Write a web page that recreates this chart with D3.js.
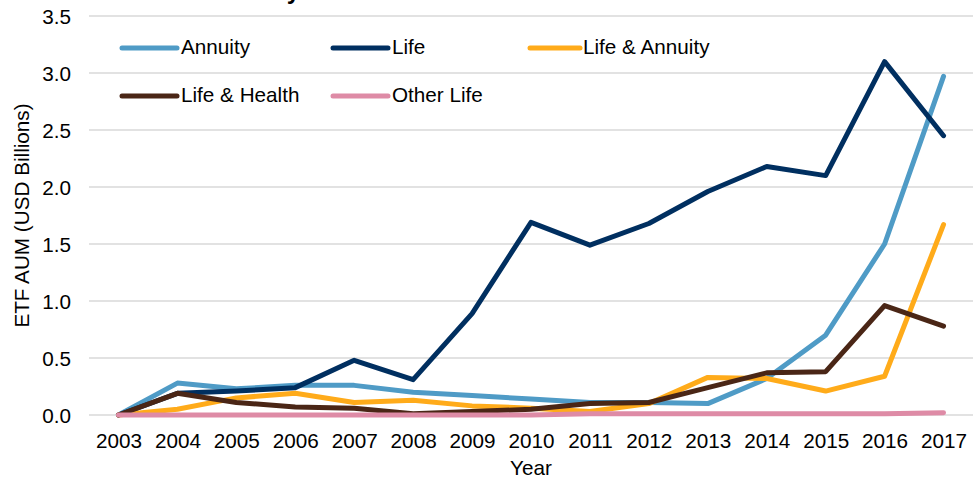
<!DOCTYPE html>
<html>
<head>
<meta charset="utf-8">
<title>ETF AUM by industry</title>
<style>
  body { margin: 0; background: #fff; }
  svg { display: block; }
  text { font-family: "Liberation Sans", Arial, sans-serif; fill: #000; }
  .grid line { stroke: #d9d9d9; stroke-width: 1.5; }
  .series { fill: none; stroke-width: 5; stroke-linejoin: round; stroke-linecap: round; }
</style>
<script src="https://cdn.jsdelivr.net/npm/d3@7"></script>
</head>
<body>
<script>
// data
const years = ['2003','2004','2005','2006','2007','2008','2009','2010','2011','2012','2013','2014','2015','2016','2017'];
const annuity      = [0, 0.28, 0.23, 0.26, 0.26, 0.20, 0.17, 0.14, 0.11, 0.11, 0.10, 0.32, 0.70, 1.50, 2.97];
const life         = [0, 0.19, 0.21, 0.24, 0.48, 0.31, 0.89, 1.69, 1.49, 1.68, 1.96, 2.18, 2.10, 3.10, 2.45];
const lifeAnnuity  = [0, 0.05, 0.15, 0.19, 0.11, 0.13, 0.08, 0.06, 0.03, 0.10, 0.33, 0.32, 0.21, 0.34, 1.67];
const lifeHealth   = [0, 0.19, 0.11, 0.07, 0.06, 0.01, 0.03, 0.05, 0.10, 0.11, 0.24, 0.37, 0.38, 0.96, 0.78];
const otherLife    = [0, 0, 0, 0, 0, 0, 0, 0, 0.01, 0.01, 0.01, 0.01, 0.01, 0.01, 0.02];
const yTicks = [0, 0.5, 1.0, 1.5, 2.0, 2.5, 3.0, 3.5];

const series = [
  { name: 'Annuity', values: annuity, color: '#4f9bc6' },
  { name: 'Life', values: life, color: '#002f60' },
  { name: 'Life & Annuity', values: lifeAnnuity, color: '#ffab1a' },
  { name: 'Life & Health', values: lifeHealth, color: '#4a2616' },
  { name: 'Other Life', values: otherLife, color: '#de8ba6' }
];

const W = 980, H = 481;
const plotL = 89, plotR = 973, plotT = 16, plotB = 415;
const fs = '20.7px';

const svg = d3.select('body').append('svg').attr('width', W).attr('height', H);

const x = d3.scalePoint().domain(years).range([plotL, plotR]).padding(0.5);
const y = d3.scaleLinear().domain([0, 3.5]).range([plotB, plotT]);

// title sits above the visible area; only the tail of its last letter shows
svg.append('text')
  .attr('x', 300).attr('y', -1)
  .attr('text-anchor', 'end')
  .style('font-size', '24px').style('font-weight', 'bold')
  .text('Life Insurance Industry');

// gridlines
svg.append('g').attr('class', 'grid')
  .selectAll('line').data(yTicks).join('line')
  .attr('x1', plotL).attr('x2', plotR)
  .attr('y1', d => y(d)).attr('y2', d => y(d));

// y axis labels
const yAxis = svg.append('g')
  .attr('transform', `translate(${plotL},0)`)
  .call(d3.axisLeft(y).tickValues(yTicks).tickFormat(d3.format('.1f')).tickSize(0).tickPadding(18));
yAxis.select('.domain').remove();
yAxis.selectAll('text').style('font-size', fs).attr('font-family', null).attr('dy', '0.35em');

// x axis labels
const xAxis = svg.append('g')
  .attr('transform', `translate(0,${plotB})`)
  .call(d3.axisBottom(x).tickSize(0).tickPadding(18));
xAxis.select('.domain').remove();
xAxis.selectAll('text').style('font-size', fs).attr('font-family', null).attr('dy', '0.71em');

// axis titles
svg.append('text')
  .attr('x', (plotL + plotR) / 2).attr('y', 475)
  .attr('text-anchor', 'middle').style('font-size', fs)
  .text('Year');

svg.append('text')
  .attr('transform', `translate(29,${(plotT + plotB) / 2}) rotate(-90)`)
  .attr('text-anchor', 'middle').style('font-size', fs)
  .text('ETF AUM (USD Billions)');

// lines
const line = d3.line().x((d, i) => x(years[i])).y(d => y(d));
svg.append('g').selectAll('path').data(series).join('path')
  .attr('class', 'series')
  .attr('stroke', d => d.color)
  .attr('d', d => line(d.values));

// legend
const legendPos = [
  { x: 122, y: 48 }, { x: 333, y: 48 }, { x: 530, y: 48 },
  { x: 122, y: 96 }, { x: 333, y: 96 }
];
const lg = svg.append('g').selectAll('g').data(series).join('g')
  .attr('transform', (d, i) => `translate(${legendPos[i].x},${legendPos[i].y})`);
lg.append('line')
  .attr('x1', 0).attr('x2', (d, i) => i === 2 ? 50 : 55)
  .attr('stroke', d => d.color).attr('stroke-width', 5).attr('stroke-linecap', 'round');
lg.append('text')
  .attr('x', (d, i) => i === 2 ? 53 : 59).attr('y', 6)
  .style('font-size', fs)
  .text(d => d.name);
</script>
</body>
</html>
